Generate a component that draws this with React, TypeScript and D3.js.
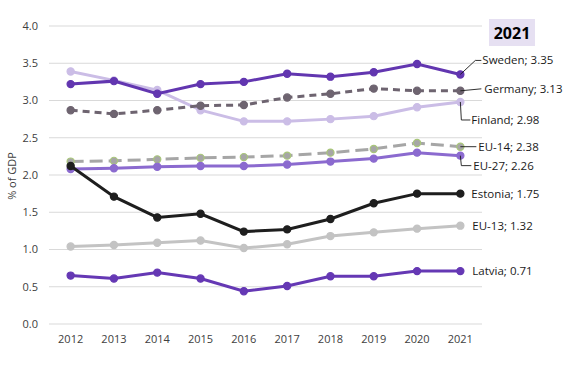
import React, { useEffect, useRef } from 'react'
import * as d3 from 'd3'

const years = ['2012', '2013', '2014', '2015', '2016', '2017', '2018', '2019', '2020', '2021']
const yTicks = [0, 0.5, 1, 1.5, 2, 2.5, 3, 3.5, 4]

const finland = [3.39, 3.27, 3.14, 2.87, 2.72, 2.72, 2.75, 2.79, 2.91, 2.98]
const germany = [2.87, 2.82, 2.87, 2.93, 2.94, 3.04, 3.09, 3.16, 3.13, 3.13]
const eu14 = [2.18, 2.19, 2.21, 2.23, 2.24, 2.26, 2.3, 2.35, 2.43, 2.38]
const eu27 = [2.08, 2.09, 2.11, 2.12, 2.12, 2.14, 2.18, 2.22, 2.3, 2.26]
const eu13 = [1.04, 1.06, 1.09, 1.12, 1.02, 1.07, 1.18, 1.23, 1.28, 1.32]
const latvia = [0.65, 0.61, 0.69, 0.61, 0.44, 0.51, 0.64, 0.64, 0.71, 0.71]
const estonia = [2.12, 1.71, 1.43, 1.48, 1.24, 1.27, 1.41, 1.62, 1.75, 1.75]
const sweden = [3.22, 3.26, 3.09, 3.22, 3.25, 3.36, 3.32, 3.38, 3.49, 3.35]

// drawing order = layering
const series = [
  { name: 'Finland', values: finland, color: '#CBBDE6', dash: null, marker: '#CBBDE6', markerStroke: '#CBBDE6', sep: '; ' },
  { name: 'Germany', values: germany, color: '#6E6470', dash: '7,5', marker: '#6E6470', markerStroke: '#6E6470', sep: '; ' },
  { name: 'EU-14', values: eu14, color: '#A6A6A6', dash: '13,6', marker: '#A6A6A6', markerStroke: '#A9C77A', sep: '; ' },
  { name: 'EU-27', values: eu27, color: '#8B6ACF', dash: null, marker: '#8B6ACF', markerStroke: '#8B6ACF', sep: '; ' },
  { name: 'EU-13', values: eu13, color: '#C3C3C3', dash: null, marker: '#C3C3C3', markerStroke: '#C3C3C3', sep: '; ' },
  { name: 'Latvia', values: latvia, color: '#6538B4', dash: null, marker: '#6538B4', markerStroke: '#6538B4', sep: '; ' },
  { name: 'Estonia', values: estonia, color: '#1E1E1E', dash: null, marker: '#1E1E1E', markerStroke: '#1E1E1E', sep: '; ' },
  { name: 'Sweden', values: sweden, color: '#6236B0', dash: null, marker: '#6236B0', markerStroke: '#6236B0', sep: '; ' },
]

// label leader layout: path offsets from last point, then text offset
const labelLayout: Record<string, { path: [number, number][]; tx: number; ty: number }> = {
  Sweden: { path: [[0, 0], [15, -14], [21, -14]], tx: 22, ty: -14 },
  Germany: { path: [[0, 0], [21, -2]], tx: 24, ty: -2 },
  Finland: { path: [[0, 0], [1, 18], [10, 18]], tx: 11, ty: 18 },
  'EU-14': { path: [[0, 0], [16, 0]], tx: 18, ty: 0 },
  'EU-27': { path: [[0, 0], [1, 10], [11, 10]], tx: 13, ty: 10 },
  Estonia: { path: [], tx: 11, ty: 0 },
  'EU-13': { path: [], tx: 12, ty: 0 },
  Latvia: { path: [], tx: 12, ty: 0 },
}

export default function App() {
  const ref = useRef<SVGSVGElement>(null)

  useEffect(() => {
    const w = 567
    const h = 372
    const margin = { top: 26, right: 85, bottom: 48, left: 49 }
    const svg = d3.select(ref.current).attr('width', w).attr('height', h)
    svg.selectAll('*').remove()

    const font = 'Open Sans, Noto Sans, sans-serif'

    const x = d3.scalePoint().domain(years).range([margin.left, w - margin.right]).padding(0.5)
    const y = d3.scaleLinear().domain([0, 4]).range([h - margin.bottom, margin.top])

    svg.append('rect').attr('width', w).attr('height', h).attr('fill', '#fff')

    // grid
    svg.append('g').selectAll('line').data(yTicks).join('line')
      .attr('x1', margin.left).attr('x2', w - margin.right)
      .attr('y1', d => y(d)).attr('y2', d => y(d))
      .attr('stroke', '#D9D9D9').attr('stroke-width', 1)

    // y labels
    svg.append('g').selectAll('text').data(yTicks).join('text')
      .attr('x', 38).attr('y', d => y(d)).attr('dy', '0.35em')
      .attr('text-anchor', 'end').attr('font-size', 11).attr('font-family', font).attr('fill', '#404040')
      .text(d => d3.format('.1f')(d))

    // x labels
    svg.append('g').selectAll('text').data(years).join('text')
      .attr('x', d => x(d)!).attr('y', h - margin.bottom + 19)
      .attr('text-anchor', 'middle').attr('font-size', 11).attr('font-family', font).attr('fill', '#404040')
      .text(d => d)

    svg.append('text').text('% of GDP').attr('text-anchor', 'middle')
      .attr('transform', `translate(16, 176) rotate(-90)`)
      .attr('font-size', 11).attr('font-family', font).attr('fill', '#404040')

    const line = d3.line<number>().x((_, i) => x(years[i])!).y(d => y(d))

    series.forEach(s => {
      const g = svg.append('g')
      g.append('path').attr('d', line(s.values)!).attr('fill', 'none')
        .attr('stroke', s.color).attr('stroke-width', 3)
        .attr('stroke-dasharray', s.dash)
      g.selectAll('circle').data(s.values).join('circle')
        .attr('cx', (_, i) => x(years[i])!).attr('cy', d => y(d)).attr('r', 3.6)
        .attr('fill', s.marker).attr('stroke', s.markerStroke).attr('stroke-width', 1.2)
    })

    // end labels
    series.forEach(s => {
      const last = s.values[s.values.length - 1]
      const px = x(years[years.length - 1])!
      const py = y(last)
      const lay = labelLayout[s.name]
      if (lay.path.length) {
        svg.append('path')
          .attr('d', d3.line()(lay.path.map(p => [px + p[0], py + p[1]]))!)
          .attr('fill', 'none').attr('stroke', '#1a1a1a').attr('stroke-width', 0.9)
      }
      svg.append('text').attr('x', px + lay.tx).attr('y', py + lay.ty).attr('dy', '0.35em')
        .attr('font-size', 11.5).attr('font-family', font).attr('fill', '#1a1a1a')
        .text(`${s.name}${s.sep}${d3.format('.2f')(last)}`)
    })

    // title box
    svg.append('rect').attr('x', 489).attr('y', 19).attr('width', 46).attr('height', 27).attr('fill', '#E6E0F2')
    svg.append('text').attr('x', 512).attr('y', 33).attr('dy', '0.35em').attr('text-anchor', 'middle')
      .attr('font-size', 16).attr('font-weight', 'bold').attr('font-family', font).attr('fill', '#000')
      .text('2021')
  }, [])

  return (
    <div style={{ position: 'absolute', left: 0, top: 0 }}>
      <svg ref={ref} style={{ display: 'block' }}></svg>
    </div>
  )
}
